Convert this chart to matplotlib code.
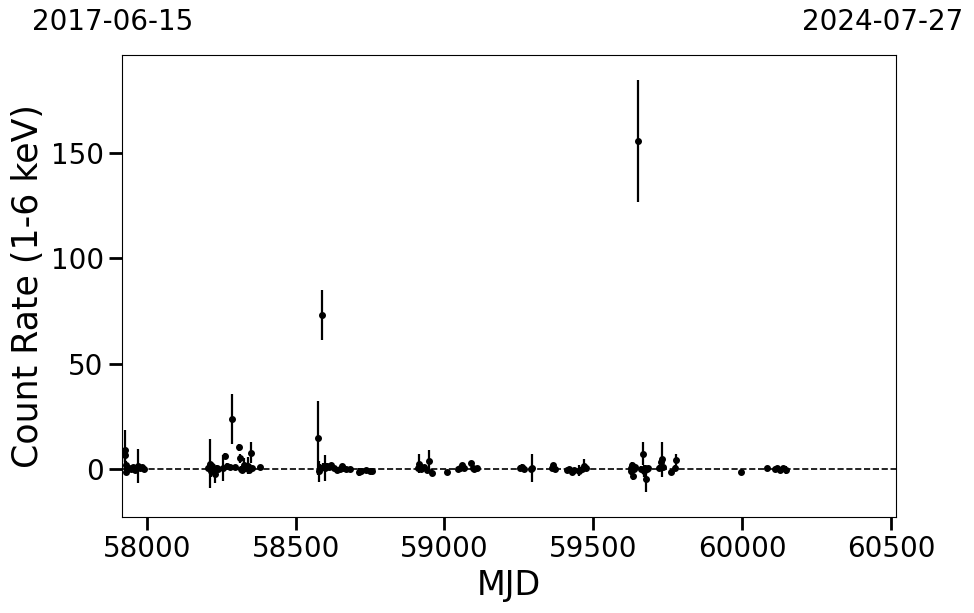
import matplotlib
matplotlib.use("Agg")
import matplotlib.pyplot as plt

# light curve values
mjd = [57927, 57928, 57929, 57930, 57940, 57948, 57955, 57962, 57970, 57976, 57983, 57992,
       58205, 58211, 58215, 58220, 58225, 58230, 58235, 58240, 58255, 58262, 58270, 58280,
       58286, 58295, 58310, 58313, 58316, 58320, 58325, 58330, 58340, 58345, 58350, 58355, 58382,
       58576, 58580, 58583, 58589, 58593, 58599, 58605, 58612, 58620, 58630, 58640, 58648,
       58655, 58660, 58670, 58682, 58712, 58720, 58735, 58750, 58757,
       58910, 58915, 58922, 58930, 58940, 58948, 58957, 59008, 59046, 59052, 59060, 59065,
       59089, 59095, 59100, 59108,
       59255, 59262, 59268, 59290, 59295, 59360, 59366, 59370, 59412, 59420, 59428, 59435,
       59453, 59462, 59469, 59474,
       59625, 59628, 59630, 59633, 59636, 59640, 59651, 59660, 59666, 59670, 59673, 59676,
       59680, 59683, 59722, 59728, 59732, 59735, 59762, 59776, 59779, 59995,
       60085, 60110, 60118, 60128, 60138, 60148]
rate = [9.0, 6.5, 2.0, -1.5, 0.5, 0.0, 0.8, -0.5, 1.5, 0.5, 0.8, 0.0,
        0.5, 2.5, -1.0, 1.5, 0.0, -2.5, 0.5, 0.0, 0.5, 6.2, 1.2, 1.0,
        23.7, 1.0, 10.2, 5.0, 0.0, -0.5, 2.0, 0.5, 1.5, -0.5, 7.8, 0.5, 0.8,
        14.7, -1.0, 0.5, 73.0, 1.0, 0.5, 1.5, 1.0, 2.0, 0.5, -0.5, 0.0,
        1.5, 0.5, 0.0, 0.0, -1.5, -1.0, -0.5, -1.0, -0.8,
        0.5, 2.5, 0.0, 1.0, -0.5, 3.8, -1.7, -1.3, -0.2, 0.5, 1.8, 0.3,
        3.0, 0.5, 0.0, 0.5,
        0.5, 1.0, 0.0, 0.0, 0.5, 0.5, 1.8, 0.0, -0.5, 0.0, -1.5, -0.5,
        -0.8, 0.0, 1.5, 0.5,
        0.5, -1.0, 2.0, -3.3, 0.0, 1.0, 155.7, 0.0, 7.2, -1.0, 0.5, -4.7,
        0.0, 0.5, 0.5, 3.5, 4.6, 1.0, -1.5, 0.5, 4.3, -1.3,
        0.5, 0.0, 0.5, -0.3, 0.5, -0.5]
err = [9.5, 3.0, 2.0, 1.5, 1.0, 1.0, 1.2, 1.0, 8.0, 1.0, 1.0, 1.0,
       1.5, 11.5, 3.0, 2.0, 1.5, 4.0, 1.5, 1.0, 6.0, 1.5, 1.5, 1.0,
       12.0, 1.0, 1.5, 2.0, 1.5, 1.5, 3.0, 2.0, 4.0, 1.5, 5.0, 1.0, 1.0,
       17.7, 5.0, 2.0, 12.0, 2.0, 6.0, 1.5, 1.0, 1.0, 1.0, 1.0, 1.0,
       1.0, 1.0, 1.0, 1.0, 2.0, 1.5, 1.0, 1.0, 1.0,
       1.5, 4.5, 1.5, 1.0, 1.0, 5.0, 1.5, 1.0, 1.0, 1.0, 1.0, 1.0,
       1.0, 1.0, 1.5, 1.0,
       1.5, 1.5, 1.0, 1.0, 6.5, 1.0, 1.0, 1.0, 1.0, 1.0, 1.0, 1.0,
       2.5, 1.0, 3.0, 1.0,
       1.5, 2.0, 1.5, 2.0, 1.5, 1.0, 29.0, 1.5, 5.5, 3.0, 1.5, 6.0,
       1.5, 1.0, 1.5, 1.5, 8.2, 1.0, 1.2, 1.5, 2.8, 1.0,
       1.0, 1.0, 1.0, 1.0, 1.0, 2.0]

start_date = '2017-06-15'
end_date = '2024-07-27'

fig = plt.figure(figsize=(9.74, 6.13), dpi=100)
ax = fig.add_axes([0.125, 0.1566, 0.795, 0.7537])

ax.axhline(0, color='black', linestyle='--', lw=1.2, zorder=1)
ax.errorbar(mjd, rate, yerr=err, fmt='o', color='black', ms=4,
            elinewidth=1.6, capsize=0, zorder=3)

ax.set_xlim(57916, 60517)
ax.set_ylim(-22.8, 196.5)
ax.set_xticks([58000, 58500, 59000, 59500, 60000, 60500])
ax.set_yticks([0, 50, 100, 150])
ax.tick_params(axis='both', labelsize=20, length=9.5, width=2)
ax.set_xlabel('MJD', fontsize=24)
ax.set_ylabel('Count Rate (1-6 keV)', fontsize=25)

fig.text(113 / 974, 1 - 22 / 613, start_date, fontsize=20, ha='center', va='center')
fig.text(883 / 974, 1 - 22 / 613, end_date, fontsize=20, ha='center', va='center')

fig.savefig('out.png', dpi=100)
